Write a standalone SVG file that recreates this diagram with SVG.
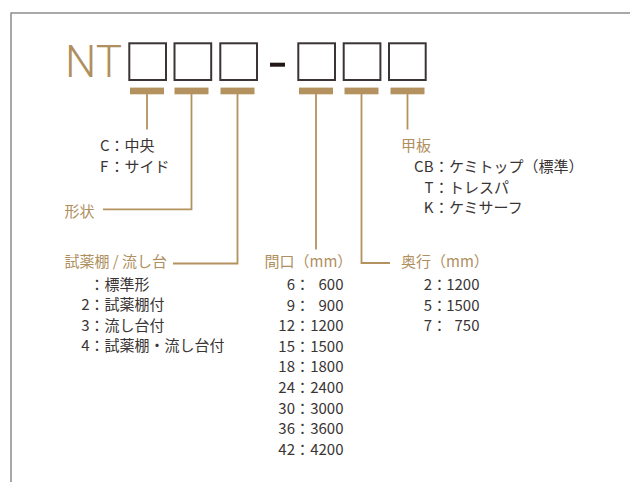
<svg xmlns="http://www.w3.org/2000/svg" width="630" height="482" viewBox="0 0 630 482">
<style>
  .t{font-family:"Noto Sans CJK JP","Noto Sans",sans-serif;font-size:15px;fill:#3a3434}
  .g{font-family:"Noto Sans CJK JP","Noto Sans",sans-serif;font-size:15px;fill:#b08f5e}
  .e{text-anchor:end}
  .box{fill:#fff;stroke:#3b3434;stroke-width:2}
  .bar{fill:#b3925f}
  .ln{fill:none;stroke:#b3925f;stroke-width:1.8}
</style>
<rect width="630" height="482" fill="#fff"/>
<line x1="11" y1="13" x2="630" y2="13" stroke="#555" stroke-width="1.2"/>
<line x1="11" y1="12.5" x2="11" y2="482" stroke="#8a8a8a" stroke-width="1.5"/>

<g id="code">
  <text x="65" y="77" font-family="Roboto,'Liberation Sans',sans-serif" font-weight="300" font-size="45" fill="#b08f5e" textLength="57" lengthAdjust="spacingAndGlyphs">NT</text>
  <rect class="box" x="129.3" y="43.3" width="36.7" height="36.7"/>
  <rect class="box" x="174.5" y="43.3" width="36.7" height="36.7"/>
  <rect class="box" x="220.3" y="43.3" width="36.7" height="36.7"/>
  <rect x="270" y="62.7" width="15" height="4" fill="#231815"/>
  <rect class="box" x="298.3" y="43.3" width="36.7" height="36.7"/>
  <rect class="box" x="343.7" y="43.3" width="36.7" height="36.7"/>
  <rect class="box" x="389" y="43.3" width="36.7" height="36.7"/>
  <rect class="bar" x="130" y="87.6" width="34" height="6.7"/>
  <rect class="bar" x="174.5" y="87.6" width="34" height="6.7"/>
  <rect class="bar" x="220.5" y="87.6" width="34" height="6.7"/>
  <rect class="bar" x="299" y="87.6" width="34" height="6.7"/>
  <rect class="bar" x="344.5" y="87.6" width="34" height="6.7"/>
  <rect class="bar" x="390.5" y="87.6" width="34" height="6.7"/>
</g>

<g id="connectors">
  <path class="ln" d="M147 94V129.5"/>
  <path class="ln" d="M191.5 94V209.3H103"/>
  <path class="ln" d="M237.5 94V263.5H173"/>
  <path class="ln" d="M316 94V249.5"/>
  <path class="ln" d="M361.5 94V263H390"/>
  <path class="ln" d="M407.5 94V129.5"/>
</g>

<g id="position">
  <text class="t" y="151"><tspan x="100">C</tspan><tspan x="109.5">：中央</tspan></text>
  <text class="t" y="171.5"><tspan x="100">F</tspan><tspan x="109.5">：サイド</tspan></text>
</g>

<g id="shape">
  <text class="g" x="64.5" y="217">形状</text>
</g>

<g id="cabinet">
  <text class="g" x="64.5" y="267">試薬棚 / 流し台</text>
  <text class="t" x="89.5" y="289.5">：標準形</text>
  <text class="t" y="310"><tspan class="e" x="89.5">2</tspan><tspan x="89.5">：試薬棚付</tspan></text>
  <text class="t" y="330.6"><tspan class="e" x="89.5">3</tspan><tspan x="89.5">：流し台付</tspan></text>
  <text class="t" y="351.2"><tspan class="e" x="89.5">4</tspan><tspan x="89.5">：試薬棚・流し台付</tspan></text>
</g>

<g id="width">
  <text class="g" x="264.5" y="267">間口（mm）</text>
  <text class="t" y="290"><tspan class="e" x="295">6</tspan><tspan x="295">：</tspan><tspan class="e" x="343.5">600</tspan></text>
  <text class="t" y="310.6"><tspan class="e" x="295">9</tspan><tspan x="295">：</tspan><tspan class="e" x="343.5">900</tspan></text>
  <text class="t" y="331.2"><tspan class="e" x="295">12</tspan><tspan x="295">：</tspan><tspan class="e" x="343.5">1200</tspan></text>
  <text class="t" y="351.8"><tspan class="e" x="295">15</tspan><tspan x="295">：</tspan><tspan class="e" x="343.5">1500</tspan></text>
  <text class="t" y="372.4"><tspan class="e" x="295">18</tspan><tspan x="295">：</tspan><tspan class="e" x="343.5">1800</tspan></text>
  <text class="t" y="393"><tspan class="e" x="295">24</tspan><tspan x="295">：</tspan><tspan class="e" x="343.5">2400</tspan></text>
  <text class="t" y="413.6"><tspan class="e" x="295">30</tspan><tspan x="295">：</tspan><tspan class="e" x="343.5">3000</tspan></text>
  <text class="t" y="434.2"><tspan class="e" x="295">36</tspan><tspan x="295">：</tspan><tspan class="e" x="343.5">3600</tspan></text>
  <text class="t" y="454.8"><tspan class="e" x="295">42</tspan><tspan x="295">：</tspan><tspan class="e" x="343.5">4200</tspan></text>
</g>

<g id="depth">
  <text class="g" x="401" y="267">奥行（mm）</text>
  <text class="t" y="290"><tspan class="e" x="432">2</tspan><tspan x="432">：</tspan><tspan class="e" x="479.5">1200</tspan></text>
  <text class="t" y="310.6"><tspan class="e" x="432">5</tspan><tspan x="432">：</tspan><tspan class="e" x="479.5">1500</tspan></text>
  <text class="t" y="331.2"><tspan class="e" x="432">7</tspan><tspan x="432">：</tspan><tspan class="e" x="479.5">750</tspan></text>
</g>

<g id="top">
  <text class="g" x="401" y="151">甲板</text>
  <text class="t" y="172"><tspan class="e" x="433.5">CB</tspan><tspan x="434">：ケミトップ（標準）</tspan></text>
  <text class="t" y="192.5"><tspan class="e" x="433.5">T</tspan><tspan x="434">：トレスパ</tspan></text>
  <text class="t" y="213"><tspan class="e" x="433.5">K</tspan><tspan x="434">：ケミサーフ</tspan></text>
</g>
</svg>
